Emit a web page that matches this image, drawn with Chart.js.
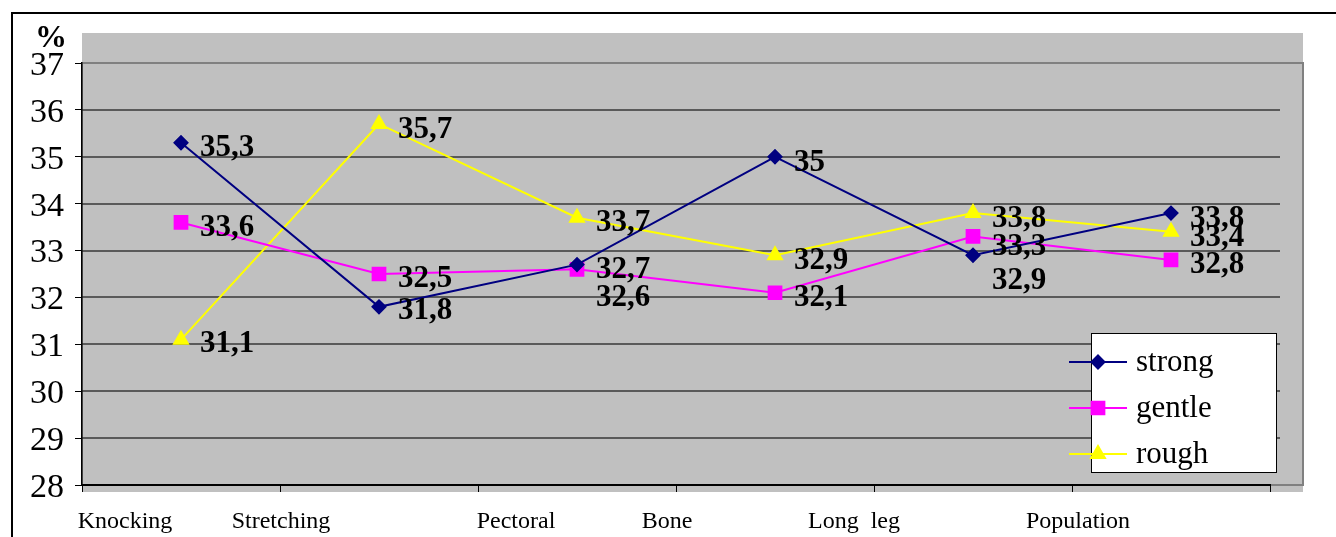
<!DOCTYPE html>
<html>
<head>
<meta charset="utf-8">
<script src="https://cdn.jsdelivr.net/npm/chart.js@4"></script>
<style>
  body { margin: 0; background: #fff; }
  canvas { display: block; }
</style>
</head>
<body>
<canvas id="chart" width="1336" height="537"></canvas>
<script>
const categories = ['Knocking', 'Stretching', 'Pectoral', 'Bone', 'Long  leg', 'Population'];
const strong = [35.3, 31.8, 32.7, 35, 32.9, 33.8];
const gentle = [33.6, 32.5, 32.6, 32.1, 33.3, 32.8];
const rough = [31.1, 35.7, 33.7, 32.9, 33.8, 33.4];
const yTicks = [28, 29, 30, 31, 32, 33, 34, 35, 36, 37];

// label nudges (pixels), like Excel moved some labels around
const labelDy = [
  [5, 4, 5, 6, 26, 6],
  [6, 5, 29, 5, 10, 5],
  [4, 6, 5, 6, 6, 6]
];
const catLabelDx = [-56, -98, -61, -108, -119, -93];

const serif = "'Liberation Serif', 'Times New Roman', serif";

const backdrop = {
  id: 'backdrop',
  beforeDraw(chart) {
    const { ctx, chartArea: a, scales: { y } } = chart;
    ctx.save();
    ctx.fillStyle = '#fff';
    ctx.fillRect(0, 0, chart.width, chart.height);
    // outer frame
    ctx.strokeStyle = '#000';
    ctx.lineWidth = 2;
    ctx.beginPath();
    ctx.moveTo(12, 537);
    ctx.lineTo(12, 13);
    ctx.lineTo(1336, 13);
    ctx.stroke();
    // gray plot
    ctx.fillStyle = '#c0c0c0';
    ctx.fillRect(a.left, a.top - 30, a.right + 33 - a.left, a.bottom + 7 - (a.top - 30));
    ctx.strokeStyle = '#808080';
    ctx.lineWidth = 2;
    ctx.strokeRect(a.left, a.top, a.right + 33 - a.left, a.bottom - a.top);
    // gridlines
    ctx.strokeStyle = '#383838';
    ctx.lineWidth = 1.5;
    yTicks.slice(1, -1).forEach(v => {
      const py = Math.round(y.getPixelForValue(v));
      ctx.beginPath();
      ctx.moveTo(a.left, py);
      ctx.lineTo(a.right + 10, py);
      ctx.stroke();
    });
    // % sign
    ctx.fillStyle = '#000';
    ctx.font = 'bold 32px ' + serif;
    ctx.textAlign = 'center';
    ctx.textBaseline = 'middle';
    ctx.fillText('%', 51, 39);
    ctx.restore();
  },
  afterDraw(chart) {
    const { ctx, chartArea: a, scales: { x } } = chart;
    ctx.save();
    // data labels
    ctx.fillStyle = '#000';
    ctx.font = 'bold 31px ' + serif;
    ctx.textAlign = 'left';
    ctx.textBaseline = 'middle';
    chart.data.datasets.forEach((ds, di) => {
      const meta = chart.getDatasetMeta(di);
      meta.data.forEach((pt, i) => {
        ctx.fillText(String(ds.data[i]).replace('.', ','), pt.x + 19, pt.y + labelDy[di][i]);
      });
    });
    // category labels
    ctx.font = '24px ' + serif;
    ctx.textAlign = 'center';
    categories.forEach((c, i) => {
      ctx.fillText(c, x.getPixelForValue(i) + catLabelDx[i], a.bottom + 37);
    });
    // legend
    const lx = a.right - 179, ly = a.bottom - 152;
    ctx.fillStyle = '#fff';
    ctx.fillRect(lx, ly, 185, 139);
    ctx.strokeStyle = '#000';
    ctx.lineWidth = 1;
    ctx.strokeRect(lx + 0.5, ly + 0.5, 185, 139);
    chart.data.datasets.forEach((ds, di) => {
      const cy = ly + 29 + di * 46;
      ctx.strokeStyle = ds.borderColor;
      ctx.lineWidth = 2;
      ctx.beginPath();
      ctx.moveTo(lx - 22, cy);
      ctx.lineTo(lx + 36, cy);
      ctx.stroke();
      ctx.fillStyle = ds.backgroundColor;
      ctx.strokeStyle = ds.borderColor;
      Chart.helpers.drawPoint(ctx, { pointStyle: ds.pointStyle, radius: ds.pointRadius, borderWidth: 1, rotation: 0 }, lx + 7, cy);
      ctx.fillStyle = '#000';
      ctx.font = '31px ' + serif;
      ctx.textAlign = 'left';
      ctx.textBaseline = 'middle';
      ctx.fillText(ds.label, lx + 45, cy + 1);
    });
    ctx.restore();
  }
};

new Chart(document.getElementById('chart'), {
  type: 'line',
  data: {
    labels: categories,
    datasets: [
      { label: 'strong', data: strong, borderColor: '#000080', backgroundColor: '#000080',
        pointStyle: 'rectRot', pointRadius: 6.5, borderWidth: 2 },
      { label: 'gentle', data: gentle, borderColor: '#ff00ff', backgroundColor: '#ff00ff',
        pointStyle: 'rect', pointRadius: 9, borderWidth: 2 },
      { label: 'rough', data: rough, borderColor: '#ffff00', backgroundColor: '#ffff00',
        pointStyle: 'triangle', pointRadius: 8, borderWidth: 2 }
    ]
  },
  options: {
    responsive: false,
    animation: false,
    devicePixelRatio: 1,
    layout: { padding: { top: 63, right: 66, left: 0, bottom: 0 } },
    plugins: { legend: { display: false }, tooltip: { enabled: false } },
    elements: { line: { tension: 0 }, point: { borderWidth: 1 } },
    scales: {
      x: {
        offset: true,
        grid: { drawOnChartArea: false, tickLength: 7, color: '#000', offset: true },
        border: { color: '#000', width: 2 },
        ticks: { display: false },
        afterFit(s) { s.height = 52; }
      },
      y: {
        min: 28, max: 37,
        grid: { drawOnChartArea: false, tickLength: 7, color: '#000' },
        border: { color: '#000', width: 1.5 },
        ticks: {
          stepSize: 1, color: '#000', padding: 11, labelOffset: 3,
          font: { family: serif, size: 34 },
          callback: v => yTicks.includes(v) ? String(v) : ''
        },
        afterFit(s) { s.width = 82; }
      }
    }
  },
  plugins: [backdrop]
});
</script>
</body>
</html>
